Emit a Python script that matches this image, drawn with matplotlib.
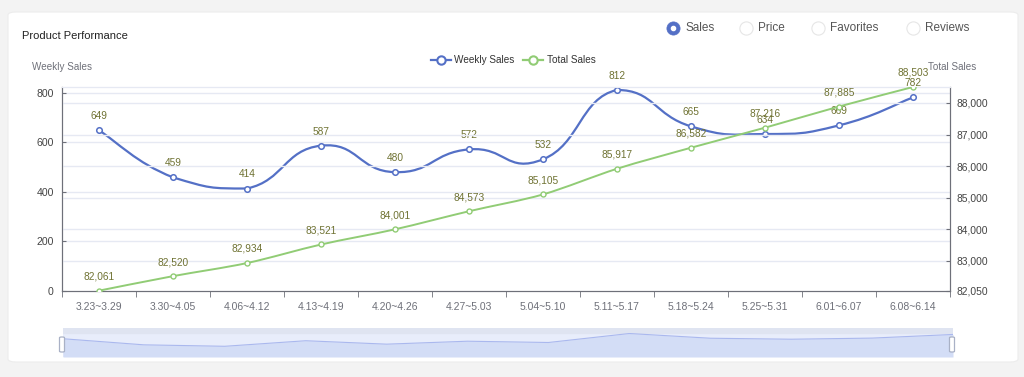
import matplotlib.pyplot as plt
import numpy as np
from matplotlib.path import Path
from matplotlib.patches import PathPatch, FancyBboxPatch
from matplotlib.lines import Line2D

plt.rcParams['font.family'] = ['Liberation Sans', 'DejaVu Sans']

weeks = ['3.23~3.29', '3.30~4.05', '4.06~4.12', '4.13~4.19', '4.20~4.26', '4.27~5.03',
         '5.04~5.10', '5.11~5.17', '5.18~5.24', '5.25~5.31', '6.01~6.07', '6.08~6.14']
weekly_sales = [649, 459, 414, 587, 480, 572, 532, 812, 665, 634, 669, 782]
total_sales = [82061, 82520, 82934, 83521, 84001, 84573, 85105, 85917, 86582, 87216, 87885, 88503]
right_ticks = [82050, 83000, 84000, 85000, 86000, 87000, 88000]
left_ticks = [0, 200, 400, 600, 800]
tabs = ['Sales', 'Price', 'Favorites', 'Reviews']

BLUE = '#5470c6'
GREEN = '#91cc75'
LABEL = '#6f7232'
GRID = '#e6e9f3'
AXIS = '#6e7079'
TEXT = '#6e7079'


def smooth_path(xs, ys, k=0.25):
    # echarts-like bezier smoothing through the data points
    pts = np.column_stack([xs, ys]).astype(float)
    n = len(pts)
    verts = [pts[0]]
    codes = [Path.MOVETO]
    for i in range(n - 1):
        p0 = pts[max(i - 1, 0)]
        p1 = pts[i]
        p2 = pts[i + 1]
        p3 = pts[min(i + 2, n - 1)]
        c1 = p1 + (p2 - p0) * k
        c2 = p2 - (p3 - p1) * k
        c1[1] = np.clip(c1[1], min(ys), max(ys))
        c2[1] = np.clip(c2[1], min(ys), max(ys))
        verts += [c1, c2, p2]
        codes += [Path.CURVE4] * 3
    return Path(verts, codes)


fig = plt.figure(figsize=(10.24, 3.77), dpi=100)
fig.patch.set_facecolor('#f3f3f3')

# white card
card = FancyBboxPatch((8 / 1024, 15 / 377), 1010 / 1024, 350 / 377,
                      boxstyle='round,pad=0,rounding_size=0.008',
                      transform=fig.transFigure, facecolor='white', edgecolor='#ececec', lw=0.8,
                      zorder=-10)
fig.add_artist(card)

fig.text(22 / 1024, 1 - 36 / 377, 'Product Performance', fontsize=8, color='#222222', va='center')

# radio tabs
tab_x = [673, 746, 818, 913]
for i, (tx, name) in enumerate(zip(tab_x, tabs)):
    ty = 1 - 28 / 377
    if i == 0:
        fig.add_artist(Line2D([tx / 1024], [ty], marker='o', ms=9.5, mfc=BLUE, mec=BLUE, mew=0.5,
                              transform=fig.transFigure))
        fig.add_artist(Line2D([tx / 1024], [ty], marker='o', ms=3, mfc='white', mec='white',
                              transform=fig.transFigure))
    else:
        fig.add_artist(Line2D([tx / 1024], [ty], marker='o', ms=9.5, mfc='white', mec='#e6e6e6', mew=0.8,
                              transform=fig.transFigure))
    fig.text((tx + 12) / 1024, ty, name, fontsize=8.5, color='#555555', va='center')

# main chart
ax = fig.add_axes([62 / 1024, 1 - 291 / 377, 888 / 1024, 204 / 377])
axr = ax.twinx()
x = np.arange(len(weeks))

ax.set_xlim(-0.5, len(weeks) - 0.5)
ax.set_ylim(0, 824)
axr.set_ylim(82050, 88503)

for v in left_ticks[1:]:
    ax.axhline(v, color=GRID, lw=1, zorder=0)
for v in right_ticks[1:]:
    axr.axhline(v, color=GRID, lw=1, zorder=0)

ax.add_patch(PathPatch(smooth_path(x, weekly_sales), fill=False, edgecolor=BLUE, lw=1.6, zorder=3))
ax.plot(x, weekly_sales, 'o', ms=4, mfc='white', mec=BLUE, mew=1.1, zorder=4)
for xi, v in zip(x, weekly_sales):
    ax.annotate(str(v), (xi, v), xytext=(0, 8), textcoords='offset points',
                ha='center', fontsize=7.3, color=LABEL)

axr.add_patch(PathPatch(smooth_path(x, total_sales, k=0.15), fill=False, edgecolor=GREEN, lw=1.4, zorder=3))
axr.plot(x, total_sales, 'o', ms=3.6, mfc='white', mec=GREEN, mew=1.0, zorder=4)
for xi, v in zip(x, total_sales):
    axr.annotate(f'{v:,}', (xi, v), xytext=(0, 8), textcoords='offset points',
                 ha='center', fontsize=7.3, color=LABEL)

ax.set_xticks(x)
ax.set_xticklabels(weeks)
ax.set_xticks(np.arange(-0.5, len(weeks)), minor=True)
ax.tick_params(axis='x', which='major', length=0, pad=8, labelsize=7.5, labelcolor=TEXT)
ax.tick_params(axis='x', which='minor', length=4, color=AXIS, direction='out')
ax.set_yticks(left_ticks)
ax.tick_params(axis='y', length=3, color=AXIS, direction='in', labelsize=7.6, labelcolor='#444444', pad=6)
axr.set_yticks(right_ticks)
axr.set_yticklabels([f'{v:,}' for v in right_ticks])
axr.tick_params(axis='y', length=3, color=AXIS, direction='in', labelsize=7.4, labelcolor='#444444', pad=5)

for a in (ax, axr):
    a.spines['top'].set_color(GRID)
    a.spines['bottom'].set_color(AXIS)
    a.spines['left'].set_color(AXIS)
    a.spines['right'].set_color(AXIS)
    a.set_facecolor('none')

fig.text(32 / 1024, 1 - 67 / 377, 'Weekly Sales', fontsize=7.1, color=TEXT, va='center')
fig.text(976 / 1024, 1 - 67 / 377, 'Total Sales', fontsize=7.1, color=TEXT, va='center', ha='right')

# legend
leg = ax.legend(handles=[
    Line2D([], [], color=BLUE, lw=1.6, marker='o', ms=6, mfc='white', mec=BLUE, mew=1.5, label='Weekly Sales'),
    Line2D([], [], color=GREEN, lw=1.6, marker='o', ms=6, mfc='white', mec=GREEN, mew=1.5, label='Total Sales')],
    loc='center', bbox_to_anchor=(513 / 1024, 1 - 60 / 377), bbox_transform=fig.transFigure,
    ncol=2, frameon=False, fontsize=7.2, handlelength=2.0, handletextpad=0.4, columnspacing=0.8,
    labelcolor='#333333')

# data zoom slider
sl = fig.add_axes([63 / 1024, 1 - 357 / 377, 890 / 1024, 29 / 377])
sl.set_xlim(0, len(weeks) - 1)
sl.set_ylim(0, 1)
sl.axhspan(0, 1, color='#e8edfb', zorder=0)
sl.axhspan(0.83, 1, color='#dfe4f1', zorder=1)
ins = sl.inset_axes([0, 0, 1, 0.83])
ins.set_xlim(0, len(weeks) - 1)
ins.set_ylim(80, 830)
ins.fill_between(x, weekly_sales, 80, color='#d3ddf6', lw=0)
ins.plot(x, weekly_sales, color='#aab8ee', lw=0.8)
ins.axis('off')
for s in sl.spines.values():
    s.set_visible(False)
sl.set_xticks([]); sl.set_yticks([])

# slider handles
for hx in (62, 952):
    fig.add_artist(FancyBboxPatch(((hx - 2.5) / 1024, 1 - 352 / 377), 5 / 1024, 15 / 377,
                                  boxstyle='round,pad=0,rounding_size=0.002', transform=fig.transFigure,
                                  facecolor='white', edgecolor='#a9b1c6', lw=0.9, zorder=20))

fig.savefig('out.png', dpi=100, facecolor=fig.get_facecolor())
